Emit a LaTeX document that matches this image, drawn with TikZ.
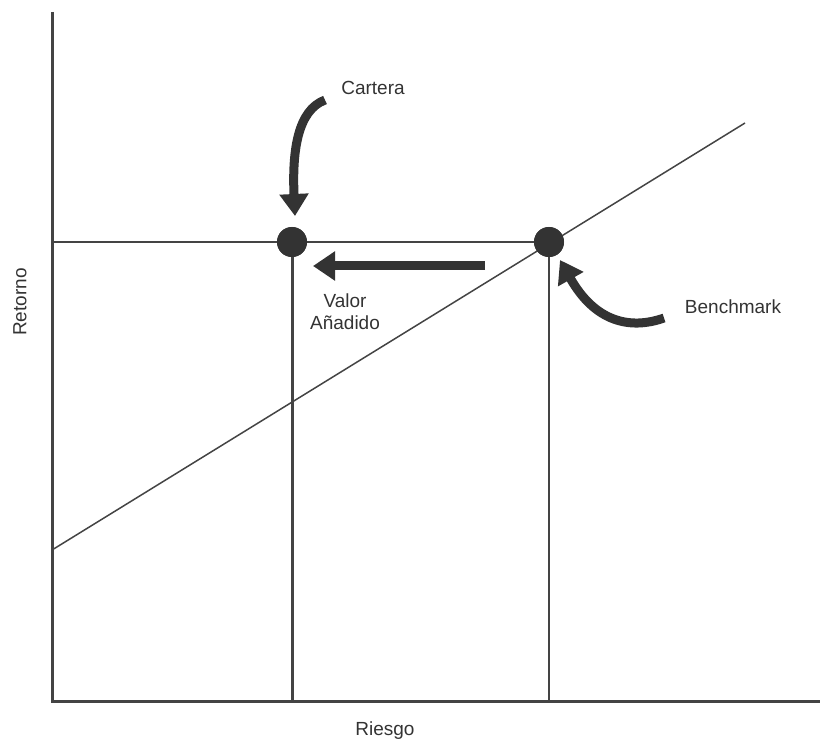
\documentclass[tikz,border=0pt]{standalone}
\usepackage{fontspec}
\setmainfont{Liberation Sans}
\usetikzlibrary{arrows.meta}
\definecolor{ink}{HTML}{333333}
\definecolor{rule}{HTML}{444444}
\tikzset{
  axis/.style={draw=rule, line width=3pt},
  thinline/.style={draw=rule, line width=1.5pt},
  dropline/.style={draw=rule, line width=3pt},
  dot/.style={circle, fill=ink, minimum size=30pt, inner sep=0pt},
  bigarrow/.style={draw=ink, line width=9pt, -{Triangle[length=22pt, width=28pt]}},
  label/.style={font=\fontsize{19}{22}\selectfont, text=ink, inner sep=0pt}
}
\begin{document}
\begin{tikzpicture}[x=1pt, y=-1pt]
  \useasboundingbox (0,0) rectangle (820,746);
  % axes
  \coordinate (top) at (52,12);
  \coordinate (origin) at (52,701);
  \coordinate (right) at (820,701);
  % points
  \node[dot] (cart) at (292,242) {};
  \node[dot] (bench) at (549,242) {};
  \coordinate (hl) at (52,242);
  \coordinate (cartfoot) at (292,701);
  \coordinate (benchfoot) at (549,701);
  \coordinate (lineA) at (52,550);
  \coordinate (lineB) at (745,123);
  % reference lines
  \draw[thinline] (lineA) -- (lineB);
  \draw[thinline] (hl) -- (bench.center);
  \draw[thinline] (bench.center) -- (benchfoot);
  \draw[dropline] (cart.center) -- (cartfoot);
  \draw[axis] (top) -- (origin) -- (right);
  % dots on top of lines
  \node[dot] at (cart) {};
  \node[dot] at (bench) {};
  % labels
  \node[label] (lcart) at (373,88) {Cartera};
  \node[label] (lbench) at (733,307) {Benchmark};
  \node[label, align=center] (lva) at (345,312) {Valor\\Añadido};
  \node[label, rotate=90] (lret) at (20,302) {Retorno};
  \node[label] (lrie) at (385,731) {Riesgo};
  % arrows
  \coordinate (ca0) at (325,100);
  \coordinate (ca1) at (295,216);
  \draw[bigarrow] (ca0) .. controls (298,110) and (292,150) .. (ca1);
  \coordinate (ba0) at (664,318);
  \coordinate (ba1) at (560,260);
  \draw[bigarrow] (ba0) .. controls (630,330) and (595,322) .. (ba1);
  \coordinate (va0) at (485,266);
  \coordinate (va1) at (313,266);
  \draw[bigarrow] (va0) -- (va1);
\end{tikzpicture}
\end{document}
